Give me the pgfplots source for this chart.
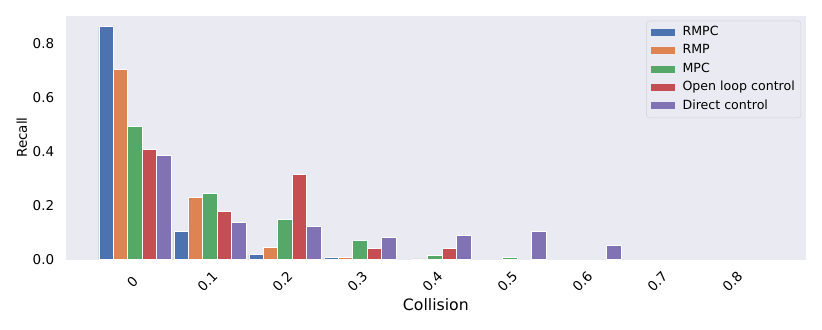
\documentclass[border=0pt]{standalone}
\usepackage{pgfplots}
\usepackage{pgfplotstable}
\pgfplotsset{compat=1.18}
\usepackage{fontspec}
\setmainfont{DejaVu Sans}

\definecolor{sbblue}{HTML}{4C72B0}
\definecolor{sborange}{HTML}{DD8452}
\definecolor{sbgreen}{HTML}{55A868}
\definecolor{sbred}{HTML}{C44E52}
\definecolor{sbpurple}{HTML}{8172B3}
\definecolor{sbbg}{HTML}{EAEAF2}

% recall per collision bin
\pgfplotstableread{
x rmpc rmp mpc olc dc
0 0.862 0.703 0.491 0.409 0.386
1 0.105 0.231 0.246 0.178 0.137
2 0.017 0.046 0.150 0.316 0.121
3 0.006 0.006 0.069 0.040 0.082
4 0.000 0.002 0.015 0.040 0.089
5 0.000 0.000 0.007 0.000 0.105
6 0.000 0.000 0.000 0.000 0.052
7 0.000 0.000 0.000 0.000 0.000
8 0.000 0.000 0.000 0.000 0.000
}\recall

\begin{document}
\begin{tikzpicture}
\begin{axis}[
  scale only axis,
  width=740.3pt, height=243.8pt,
  ybar=0pt, bar width=0.192,
  xmin=-0.924, xmax=8.947,
  ymin=0, ymax=0.903,
  xtick={0,1,2,3,4,5,6,7,8},
  xticklabels={0,0.1,0.2,0.3,0.4,0.5,0.6,0.7,0.8},
  ytick={0,0.2,0.4,0.6,0.8},
  /pgf/number format/assume math mode=true,
  yticklabel style={/pgf/number format/fixed,
    /pgf/number format/fixed zerofill,
    /pgf/number format/precision=1,
    font=\fontsize{13.5}{15}\selectfont, xshift=-8pt},
  xticklabel style={font=\fontsize{13.5}{15}\selectfont,
    xshift=-2.5pt, yshift=-18pt, rotate=45, anchor=center},
  axis line style={draw=none},
  tick style={draw=none},
  axis background/.style={fill=sbbg},
  xlabel={Collision},
  ylabel={Recall},
  xlabel style={font=\fontsize{15.7}{18}\selectfont,
    at={(axis description cs:0.5,-0.187)}, anchor=center},
  ylabel style={font=\fontsize{13.5}{15}\selectfont,
    at={(axis description cs:-0.0594,0.5)}, anchor=center},
  every axis plot/.append style={draw=white, line width=0.9pt},
  unbounded coords=discard,
  y filter/.expression={y==0 ? nan : y},
  area legend,
  legend image code/.code={\fill[#1, draw=none, sharp corners] (0pt,-3.2pt) rectangle (24pt,3.8pt);},
  legend cell align=left,
  legend style={at={(rel axis cs:1,1)}, anchor=north east,
    xshift=-5pt, yshift=-5pt,
    draw=black!18, fill=sbbg, rounded corners=3pt,
    inner xsep=4pt, inner ysep=4.2pt,
    font=\fontsize{12.6}{15}\selectfont,
    row sep=3.4pt, column sep=6pt,
    nodes={inner xsep=2pt, inner ysep=1.5pt, text height=9pt, text depth=3pt}},
]
\addplot[fill=sbblue] table[x=x, y=rmpc] {\recall};
\addplot[fill=sborange] table[x=x, y=rmp] {\recall};
\addplot[fill=sbgreen] table[x=x, y=mpc] {\recall};
\addplot[fill=sbred] table[x=x, y=olc] {\recall};
\addplot[fill=sbpurple] table[x=x, y=dc] {\recall};
\legend{RMPC, RMP, MPC, Open loop control, Direct control}
\end{axis}
\path ([xshift=-65.7pt,yshift=-69.5pt]current axis.south west)
  rectangle ([xshift=16pt,yshift=15.7pt]current axis.north east);
\end{tikzpicture}
\end{document}
